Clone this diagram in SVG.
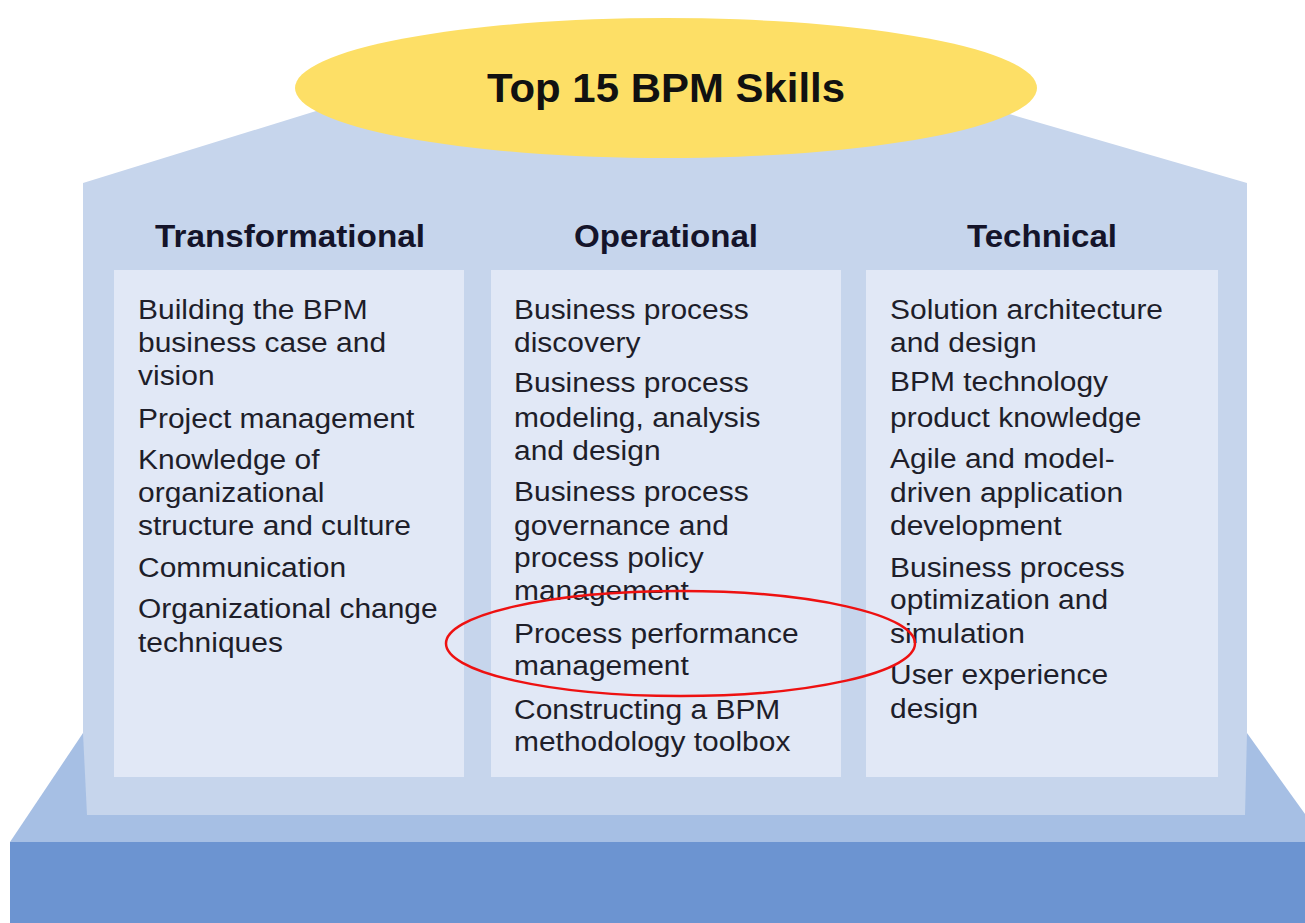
<svg xmlns="http://www.w3.org/2000/svg" width="1305" height="923" viewBox="0 0 1305 923">
  <style>
    .hdr { font-family: "Liberation Sans", Arial, sans-serif; font-weight: bold; font-size: 30.5px; fill: #14142a; text-anchor: middle; }
    .title { font-family: "Liberation Sans", Arial, sans-serif; font-weight: bold; font-size: 40px; fill: #111111; text-anchor: middle; }
    .body { font-family: "Liberation Sans", Arial, sans-serif; font-size: 28px; fill: #1e1e2a; }
    .panel { fill: #e1e8f6; }
  </style>
  <rect x="0" y="0" width="1305" height="923" fill="#ffffff"/>

  <g id="base">
    <polygon points="83,733 1247,733 1325,842 10,842" fill="#a6bfe4"/>
    <rect x="10" y="842" width="1295" height="81" fill="#6c94d1"/>
  </g>

  <g id="house">
    <polygon points="83,183 400,85 930,91 1247,183 1247,733 1245,815 87,815 83,733" fill="#c6d5ec"/>
  </g>

  <g id="title">
    <ellipse cx="666" cy="88" rx="371" ry="70" fill="#fddf66"/>
    <text class="title" x="666" y="102" textLength="358" lengthAdjust="spacingAndGlyphs">Top 15 BPM Skills</text>
  </g>

  <g id="col-transformational">
    <text class="hdr" x="290" y="247" textLength="270" lengthAdjust="spacingAndGlyphs">Transformational</text>
    <rect class="panel" x="114" y="270" width="350" height="507"/>
    <g transform="translate(138 0) scale(1.07 1)">
      <text class="body" x="0" y="319">Building the BPM</text>
      <text class="body" x="0" y="352">business case and</text>
      <text class="body" x="0" y="385">vision</text>
      <text class="body" x="0" y="428">Project management</text>
      <text class="body" x="0" y="469">Knowledge of</text>
      <text class="body" x="0" y="502">organizational</text>
      <text class="body" x="0" y="535">structure and culture</text>
      <text class="body" x="0" y="577">Communication</text>
      <text class="body" x="0" y="618">Organizational change</text>
      <text class="body" x="0" y="652">techniques</text>
    </g>
  </g>

  <g id="col-operational">
    <text class="hdr" x="666" y="247" textLength="184" lengthAdjust="spacingAndGlyphs">Operational</text>
    <rect class="panel" x="491" y="270" width="350" height="507"/>
    <g transform="translate(514 0) scale(1.07 1)">
      <text class="body" x="0" y="319">Business process</text>
      <text class="body" x="0" y="352">discovery</text>
      <text class="body" x="0" y="392">Business process</text>
      <text class="body" x="0" y="427">modeling, analysis</text>
      <text class="body" x="0" y="460">and design</text>
      <text class="body" x="0" y="501">Business process</text>
      <text class="body" x="0" y="535">governance and</text>
      <text class="body" x="0" y="567">process policy</text>
      <text class="body" x="0" y="600">management</text>
      <text class="body" x="0" y="643">Process performance</text>
      <text class="body" x="0" y="675">management</text>
      <text class="body" x="0" y="719">Constructing a BPM</text>
      <text class="body" x="0" y="751">methodology toolbox</text>
    </g>
  </g>

  <g id="col-technical">
    <text class="hdr" x="1042" y="247" textLength="150" lengthAdjust="spacingAndGlyphs">Technical</text>
    <rect class="panel" x="866" y="270" width="352" height="507"/>
    <g transform="translate(890 0) scale(1.07 1)">
      <text class="body" x="0" y="319">Solution architecture</text>
      <text class="body" x="0" y="352">and design</text>
      <text class="body" x="0" y="391">BPM technology</text>
      <text class="body" x="0" y="427">product knowledge</text>
      <text class="body" x="0" y="468">Agile and model-</text>
      <text class="body" x="0" y="502">driven application</text>
      <text class="body" x="0" y="535">development</text>
      <text class="body" x="0" y="577">Business process</text>
      <text class="body" x="0" y="609">optimization and</text>
      <text class="body" x="0" y="643">simulation</text>
      <text class="body" x="0" y="684">User experience</text>
      <text class="body" x="0" y="718">design</text>
    </g>
  </g>

  <g id="highlight">
    <ellipse cx="680.5" cy="643.5" rx="234.5" ry="52.5" fill="none" stroke="#ee1111" stroke-width="2.5"/>
  </g>
</svg>
